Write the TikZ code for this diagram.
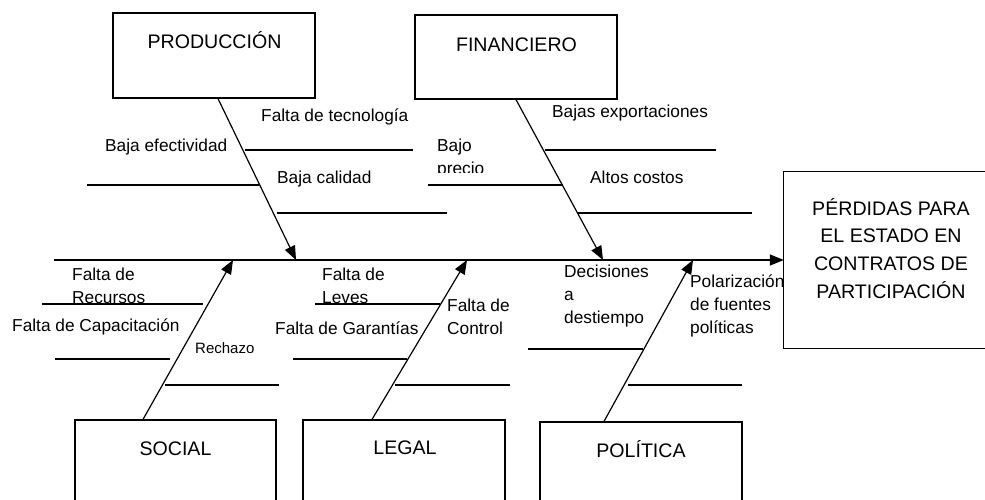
\documentclass[tikz,border=0pt]{standalone}
\usepackage{fontspec}
\setmainfont{Liberation Sans}
\usetikzlibrary{arrows.meta}
\begin{document}
\begin{tikzpicture}[x=1pt,y=-1pt,
  bone/.style={line width=1.2pt},
  arr/.style={line width=1.2pt,-{Triangle[length=14pt,width=11pt]}},
  catbox/.style={draw,line width=1.2pt,inner sep=0pt},
  lab/.style={font=\fontsize{17.3pt}{23pt}\selectfont,inner sep=0pt,anchor=base west},
  small/.style={font=\fontsize{15pt}{18pt}\selectfont,inner sep=0pt,anchor=base west},
  ttl/.style={font=\fontsize{19.6pt}{27.7pt}\selectfont,inner sep=0pt,anchor=base}]
\useasboundingbox (0,0) rectangle (985,499);
\clip (0,0) rectangle (985,499);
% boxes
\node[catbox,minimum width=202pt,minimum height=85pt] (prod) at (214,55.5) {};
\node[catbox,minimum width=202pt,minimum height=84pt] (fin) at (516,57) {};
\node[inner sep=0pt,minimum width=212pt,minimum height=176pt] (effect) at (890,260) {};
\draw[line width=1.2pt] ([xshift=10pt]effect.north east) -- (effect.north west) -- (effect.south west) -- ([xshift=10pt]effect.south east);
\node[catbox,minimum width=201pt,minimum height=120pt] (social) at (175.5,480) {};
\node[catbox,minimum width=202pt,minimum height=120pt] (legal) at (404,480) {};
\node[catbox,minimum width=202pt,minimum height=118pt] (pol) at (641,481) {};
% titles
\node[ttl] (tprod) at (214.5,48) {PRODUCCIÓN};
\node[ttl] (tfin) at (516.5,51) {FINANCIERO};
\node[ttl] (tsoc) at (175.5,455) {SOCIAL};
\node[ttl] (tleg) at (405,454) {LEGAL};
\node[ttl] (tpol) at (641,457) {POLÍTICA};
\node[ttl] (teff) at (891,215) {\vtop{\hbox to 0pt{\hss PÉRDIDAS PARA\hss}\hbox to 0pt{\hss EL ESTADO EN\hss}\hbox to 0pt{\hss CONTRATOS DE\hss}\hbox to 0pt{\hss PARTICIPACIÓN\hss}}};
% spine
\coordinate (spL) at (54,260);
\draw[arr] (spL) -- (effect.west);
% category arrows
\coordinate (tp1) at (296,260);
\coordinate (tp2) at (603,260);
\coordinate (tp3) at (233,260);
\coordinate (tp4) at (467,260);
\coordinate (tp5) at (693,260);
\draw[arr] ([xshift=4pt]prod.south) -- (tp1);
\draw[arr] (fin.south) -- (tp2);
\draw[arr] ([xshift=-32.5pt]social.north) -- (tp3);
\draw[arr] ([xshift=-32pt]legal.north) -- (tp4);
\draw[arr] ([xshift=-37pt]pol.north) -- (tp5);
% ribs
\draw[bone] (245,150) -- (413,150);
\draw[bone] (87,185) -- (259,185);
\draw[bone] (277,213) -- (447,213);
\draw[bone] (545,150) -- (716,150);
\draw[bone] (428,185) -- (563,185);
\draw[bone] (578,213) -- (752,213);
\draw[bone] (42,304) -- (203,304);
\draw[bone] (55,359) -- (170,359);
\draw[bone] (165,385) -- (279,385);
\draw[bone] (315,304) -- (440,304);
\draw[bone] (293,359) -- (407,359);
\draw[bone] (395,385) -- (510,385);
\draw[bone] (528,349) -- (643,349);
\draw[bone] (628,385) -- (742,385);
% labels
\node[lab] (l1) at (261,121) {Falta de tecnología};
\node[lab] (l2) at (105,151) {Baja efectividad};
\node[lab] (l3) at (277,183) {Baja calidad};
\node[lab] (l4) at (552,117) {Bajas exportaciones};
\begin{scope}
\clip (430,130) rectangle (520,172.5);
\node[lab] (l5) at (437,151) {\vtop{\hbox{Bajo}\hbox{precio}}};
\end{scope}
\node[lab] (l6) at (590,183) {Altos costos};
\node[lab] (l7) at (72,280) {\vtop{\hbox{Falta de}\hbox{Recursos}}};
\node[lab] (l8) at (12,331) {Falta de Capacitación};
\node[small] (l9) at (195,353) {Rechazo};
\node[lab] (l10) at (322,280) {\vtop{\hbox{Falta de}\hbox{Leves}}};
\node[lab] (l11) at (275,334) {Falta de Garantías};
\node[lab] (l12) at (447,311) {\vtop{\hbox{Falta de}\hbox{Control}}};
\node[lab] (l13) at (564,277) {\vtop{\hbox{Decisiones}\hbox{a}\hbox{destiempo}}};
\node[lab] (l14) at (690,287) {\vtop{\hbox{Polarización}\hbox{de fuentes}\hbox{políticas}}};
\end{tikzpicture}
\end{document}
